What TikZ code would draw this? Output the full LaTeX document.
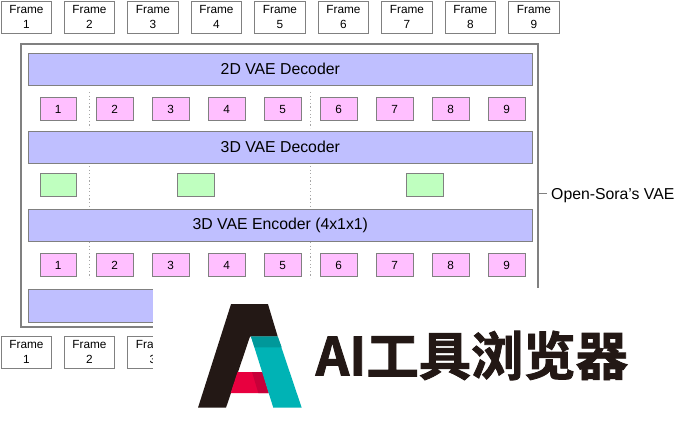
\documentclass[tikz,border=0pt]{standalone}
\usepackage{fontspec}
\setmainfont{Liberation Sans}
\newfontfamily\logofont[FakeBold=1.6]{Noto Sans CJK SC Bold}
\definecolor{edge}{HTML}{808080}
\definecolor{dotgray}{HTML}{A6A6A6}
\definecolor{barfill}{HTML}{BFBFFF}
\definecolor{pinkfill}{HTML}{FFBFFF}
\definecolor{greenfill}{HTML}{BFFFBF}
\definecolor{logoblack}{HTML}{231815}
\definecolor{logoteal}{HTML}{00B3B5}
\definecolor{logotealdk}{HTML}{00989A}
\definecolor{logored}{HTML}{E8003F}
\definecolor{logoreddk}{HTML}{C70039}
\tikzset{
  framebox/.style={draw=edge,line width=0.7pt,fill=white,minimum width=50.5pt,minimum height=32pt,inner sep=0pt,align=center,text=black,font=\fontsize{11.8}{15}\selectfont},
  barbox/.style={draw=edge,line width=0.8pt,fill=barfill,minimum width=504.5pt,minimum height=32pt,inner sep=0pt,font=\fontsize{15.8}{18}\selectfont},
  latent/.style={draw=edge,line width=0.8pt,fill=pinkfill,minimum width=36.5pt,minimum height=23.6pt,inner sep=0pt,font=\fontsize{11.8}{14}\selectfont},
  code/.style={draw=edge,line width=0.8pt,fill=greenfill,minimum width=36.5pt,minimum height=23.6pt,inner sep=0pt},
  sep/.style={draw=dotgray,line width=0.7pt,dash pattern=on 1.2pt off 2.4pt},
  outer/.style={draw=edge,line width=1.6pt,fill=white,minimum width=517pt,minimum height=283pt,inner sep=0pt}
}
\begin{document}
\begin{tikzpicture}[x=1pt,y=-1pt]
\useasboundingbox (0,0) rectangle (682,426);
\fill[white] (0,0) rectangle (682,426);
% top frames
\foreach \n/\cx in {1/26.5,2/89.5,3/153,4/216.5,5/280,6/343.5,7/407,8/470.5,9/534}
  \node[framebox] (top\n) at (\cx,17) {Frame\\\n};
% outer
\node[outer] (vae) at (279.5,185.5) {};
% bars
\node[barbox] (dectwo) at (280.3,69) {2D VAE Decoder};
\node[barbox] (decthree) at (280.3,147) {3D VAE Decoder};
\node[barbox] (encthree) at (280.3,225) {3D VAE Encoder (4x1x1)};
\node[barbox,minimum height=33pt] (enctwo) at (280.3,305.5) {};
% latents
\foreach \n/\cx in {1/58.2,2/114.7,3/170.7,4/226.7,5/282.7,6/338.7,7/394.7,8/450.7,9/506.7}{
  \node[latent] (up\n) at (\cx,109) {\n};
  \node[latent] (lo\n) at (\cx,265) {\n};
}
% codes
\node[code] (ca) at (58.2,185) {};
\node[code] (cb) at (195.7,185) {};
\node[code] (cc) at (424.7,185) {};
% separators
\foreach \sx in {89.3,310.3}{
  \draw[sep] (\sx,92) -- (\sx,128);
  \draw[sep] (\sx,166) -- (\sx,206);
  \draw[sep] (\sx,242) -- (\sx,278);
}
% label
\node[anchor=west,inner sep=0pt,font=\fontsize{15.8}{18}\selectfont] (lbl) at (551,195.5) {Open-Sora’s VAE};
\draw[edge,line width=0.7pt] ([yshift=2pt]vae.east |- lbl.west) -- ([xshift=-4.5pt,yshift=2pt]lbl.west);
% bottom frames
\foreach \n/\cx in {1/26.5,2/89.5,3/153}
  \node[framebox] (bot\n) at (\cx,352) {Frame\\\n};
% watermark panel
\fill[white] (153,288.4) rectangle (682,426);
% logo mark
\fill[logoblack] (198,407.7) -- (231,304.2) -- (268,304.2) -- (277.7,336.5) -- (250,336.5) -- (226,407.7) -- cycle;
\fill[logored] (237.5,372) -- (262.5,372) -- (268.7,393) -- (230.7,393) -- cycle;
\fill[logoreddk] (252,372) -- (262.5,372) -- (268.7,393) -- (258.3,393) -- cycle;
\fill[logoteal] (251,336.5) -- (277.7,336.5) -- (301.7,407.7) -- (273.3,407.7) -- cycle;
\fill[logotealdk] (251,336.5) -- (277.7,336.5) -- (281.7,347.3) -- (254.5,347.3) -- cycle;
% logo text
\node[anchor=west,inner sep=0pt,text=logoblack,font=\logofont\fontsize{52.3}{56}\selectfont] (logotext) at (315.5,355.5) {AI工具浏览器};
\end{tikzpicture}
\end{document}
